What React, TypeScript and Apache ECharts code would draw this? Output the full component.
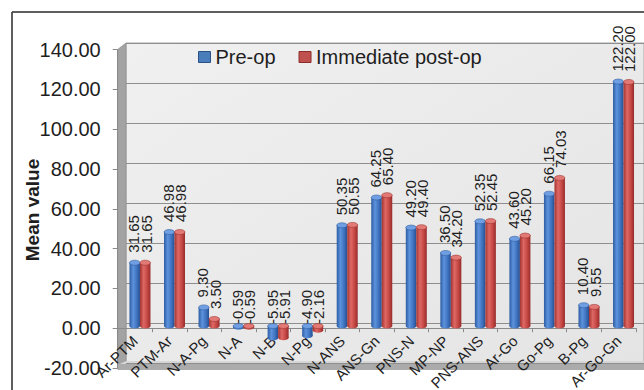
import React, { useEffect, useRef } from "react";
import * as echarts from "echarts";

// Cephalometric measurements: mean values before and immediately after surgery
const categories = [
  "Ar-PTM", "PTM-Ar", "N-A-Pg", "N-A", "N-B", "N-Pg", "N-ANS", "ANS-Gn",
  "PNS-N", "MP-NP", "PNS-ANS", "Ar-Go", "Go-Pg", "B-Pg", "Ar-Go-Gn",
];
const preOp = [31.65, 46.98, 9.3, -0.59, -5.95, -4.9, 50.35, 64.25, 49.2, 36.5, 52.35, 43.6, 66.15, 10.4, 122.2];
const postOp = [31.65, 46.98, 3.5, -0.59, -5.91, -2.16, 50.55, 65.4, 49.4, 34.2, 52.45, 45.2, 74.03, 9.55, 122.0];
const seriesNames = ["Pre-op", "Immediate post-op"];

const Y_MIN = -20;
const Y_MAX = 140;
const Y_STEP = 20;

const FONT = "'Liberation Sans', Arial, Helvetica, sans-serif";

// Layout of the pseudo-3D box: front plane (axes), middle plane (cylinders), back wall (grid lines)
const CAT_W = 34.54;
const PLOT_W = CAT_W * categories.length;
const FRONT = { left: 117.7, top: 49.5, height: 318.5 };
const MID = { left: 122.7, top: 46, height: 320 };
const BACK = { left: 126, top: 43, height: 320 };
const BAR_RATIO = 0.304;
// the category axis sits on the zero level of the front plane
const FRONT_ZERO_H = (FRONT.height * Y_MAX) / (Y_MAX - Y_MIN);

const palettes = [
  {
    body: ["#2c5ca3", "#5d92dc", "#3f73c0", "#274f91"],
    cap: "#6f9fe2",
    capStroke: "#345f9f",
    legend: "#4a7ebb",
    legendBorder: "#2b5288",
  },
  {
    body: ["#a33431", "#de6864", "#c44744", "#952c2a"],
    cap: "#e27975",
    capStroke: "#9e3634",
    legend: "#c0504d",
    legendBorder: "#8c2d2b",
  },
];

function cylinder(seriesIdx: number) {
  const pal = palettes[seriesIdx];
  return (params: any, api: any) => {
    const idx = api.value(0);
    const v = api.value(1);
    const top = api.coord([idx, v]);
    const base = api.coord([idx, 0]);
    const cw = api.size([1, 0])[0];
    const bw = cw * BAR_RATIO;
    const x = seriesIdx === 0 ? top[0] - bw : top[0];
    const cx = x + bw / 2;
    const y1 = Math.min(top[1], base[1]);
    const y2 = Math.max(top[1], base[1]);
    const ry = bw * 0.24;
    const bodyFill = new echarts.graphic.LinearGradient(0, 0, 1, 0, [
      { offset: 0, color: pal.body[0] },
      { offset: 0.35, color: pal.body[1] },
      { offset: 0.7, color: pal.body[2] },
      { offset: 1, color: pal.body[3] },
    ]);
    const labelY = v >= 0 ? top[1] - 10 : base[1] - 2;
    const labelX = cx + (seriesIdx === 0 ? -0.8 : 0.8);
    return {
      type: "group",
      children: [
        {
          type: "ellipse",
          shape: { cx, cy: y2, rx: bw / 2, ry },
          style: { fill: bodyFill },
        },
        {
          type: "rect",
          shape: { x, y: y1, width: bw, height: Math.max(y2 - y1, 0.5) },
          style: { fill: bodyFill },
        },
        {
          type: "ellipse",
          shape: { cx, cy: y1, rx: bw / 2, ry },
          style: { fill: pal.cap, stroke: pal.capStroke, lineWidth: 0.6 },
        },
        {
          type: "text",
          x: labelX,
          y: labelY,
          rotation: Math.PI / 2,
          style: {
            text: Number(v).toFixed(2),
            fontSize: 15,
            fontFamily: FONT,
            fill: "#1e1e1e",
            align: "left",
            verticalAlign: "middle",
          },
        },
      ],
    };
  };
}

export default function App() {
  const ref = useRef<HTMLDivElement>(null);

  useEffect(() => {
    if (!ref.current) return;
    const chart = echarts.init(ref.current, undefined, { renderer: "svg" });

    const backBottom = BACK.top + BACK.height;
    const frontBottom = FRONT.top + FRONT.height;

    const gridBase = { outerBoundsMode: "none", containLabel: false };

    const option: any = {
      animation: false,
      backgroundColor: "#ffffff",
      textStyle: { fontFamily: FONT },
      legend: {
        left: 193,
        top: 41,
        itemWidth: 12,
        itemHeight: 11,
        itemGap: 23,
        textStyle: { fontSize: 20, color: "#1e1e1e", fontFamily: FONT, lineHeight: 22 },
        data: seriesNames.map((name, i) => ({
          name,
          icon: "rect",
          itemStyle: { color: palettes[i].legend, borderColor: palettes[i].legendBorder, borderWidth: 1 },
        })),
      },
      grid: [
        { ...gridBase, left: FRONT.left, top: FRONT.top, width: PLOT_W, height: FRONT.height },
        { ...gridBase, left: MID.left, top: MID.top, width: PLOT_W, height: MID.height },
        { ...gridBase, left: BACK.left, top: BACK.top, width: PLOT_W, height: BACK.height },
        { ...gridBase, left: FRONT.left, top: FRONT.top, width: PLOT_W, height: FRONT_ZERO_H },
      ],
      xAxis: [
        { gridIndex: 0, type: "category", data: categories, show: false },
        { gridIndex: 1, type: "category", data: categories, show: false },
        { gridIndex: 2, type: "category", data: categories, show: false },
        {
          gridIndex: 3,
          type: "category",
          position: "bottom",
          data: categories,
          axisLine: { onZero: false, lineStyle: { color: "#8a8a8a", width: 1 } },
          axisTick: { show: true, length: 4, lineStyle: { color: "#8a8a8a" } },
          axisLabel: {
            interval: 0,
            rotate: 45,
            margin: 10,
            fontSize: 15,
            color: "#1e1e1e",
            fontFamily: FONT,
          },
        },
      ],
      yAxis: [
        {
          gridIndex: 0,
          type: "value",
          min: Y_MIN,
          max: Y_MAX,
          interval: Y_STEP,
          axisLine: { show: true, lineStyle: { color: "#8a8a8a" } },
          axisTick: { show: true, length: 5, lineStyle: { color: "#8a8a8a" } },
          splitLine: { show: false },
          axisLabel: {
            margin: 17,
            fontSize: 20,
            color: "#1e1e1e",
            fontFamily: FONT,
            formatter: (v: number) => v.toFixed(2),
          },
        },
        { gridIndex: 1, type: "value", min: Y_MIN, max: Y_MAX, interval: Y_STEP, show: false, splitLine: { show: false } },
        {
          gridIndex: 2,
          type: "value",
          min: Y_MIN,
          max: Y_MAX,
          interval: Y_STEP,
          axisLine: { show: false },
          axisTick: { show: false },
          axisLabel: { show: false },
          splitLine: { show: true, lineStyle: { color: "#8e8e8e", width: 1 } },
        },
        { gridIndex: 3, type: "value", min: 0, max: Y_MAX, show: false, splitLine: { show: false } },
      ],
      graphic: [
        // outer frame
        { type: "line", z: 50, shape: { x1: 12, y1: 12, x2: 644, y2: 12 }, style: { stroke: "#2a2a2a", lineWidth: 1.5 } },
        { type: "line", z: 50, shape: { x1: 12, y1: 12, x2: 12, y2: 390 }, style: { stroke: "#2a2a2a", lineWidth: 1.5 } },
        // back wall
        {
          type: "rect",
          z: -10,
          shape: { x: BACK.left, y: BACK.top, width: 644 - BACK.left, height: BACK.height },
          style: {
            fill: new echarts.graphic.LinearGradient(0, 0, 1, 1, [
              { offset: 0, color: "#f0f0f0" },
              { offset: 1, color: "#e4e4e4" },
            ]),
            stroke: "#a9a9a9",
            lineWidth: 1,
          },
        },
        // left wall
        {
          type: "polygon",
          z: -9,
          shape: {
            points: [
              [FRONT.left, FRONT.top],
              [BACK.left, BACK.top],
              [BACK.left, backBottom],
              [FRONT.left, frontBottom],
            ],
          },
          style: { fill: "#a3a3a3", stroke: "#8f8f8f", lineWidth: 0.8 },
        },
        // floor
        {
          type: "polygon",
          z: -9,
          shape: {
            points: [
              [FRONT.left, frontBottom - 3],
              [BACK.left, backBottom - 2],
              [644, backBottom - 2],
              [644, frontBottom - 3],
            ],
          },
          style: { fill: "#d6d6d6" },
        },
        {
          type: "rect",
          z: -9,
          shape: { x: FRONT.left, y: frontBottom - 4, width: 644 - FRONT.left, height: 6 },
          style: { fill: "#ababab" },
        },
        // axis title
        {
          type: "text",
          z: 10,
          x: 32,
          y: 210,
          rotation: Math.PI / 2,
          style: {
            text: "Mean value",
            fontSize: 19,
            fontWeight: "bold",
            fontFamily: FONT,
            fill: "#1e1e1e",
            align: "center",
            verticalAlign: "middle",
          },
        },
      ],
      series: [preOp, postOp].map((vals, i) => ({
        name: seriesNames[i],
        type: "custom",
        xAxisIndex: 1,
        yAxisIndex: 1,
        z: 5 + i,
        itemStyle: { color: palettes[i].legend },
        renderItem: cylinder(i),
        data: vals.map((v, k) => [k, v]),
        encode: { x: 0, y: 1 },
      })),
    };

    chart.setOption(option);
    return () => chart.dispose();
  }, []);

  return (
    <div
      ref={ref}
      style={{ position: "absolute", left: 0, top: 0, width: 644, height: 390, background: "#fff" }}
    />
  );
}
